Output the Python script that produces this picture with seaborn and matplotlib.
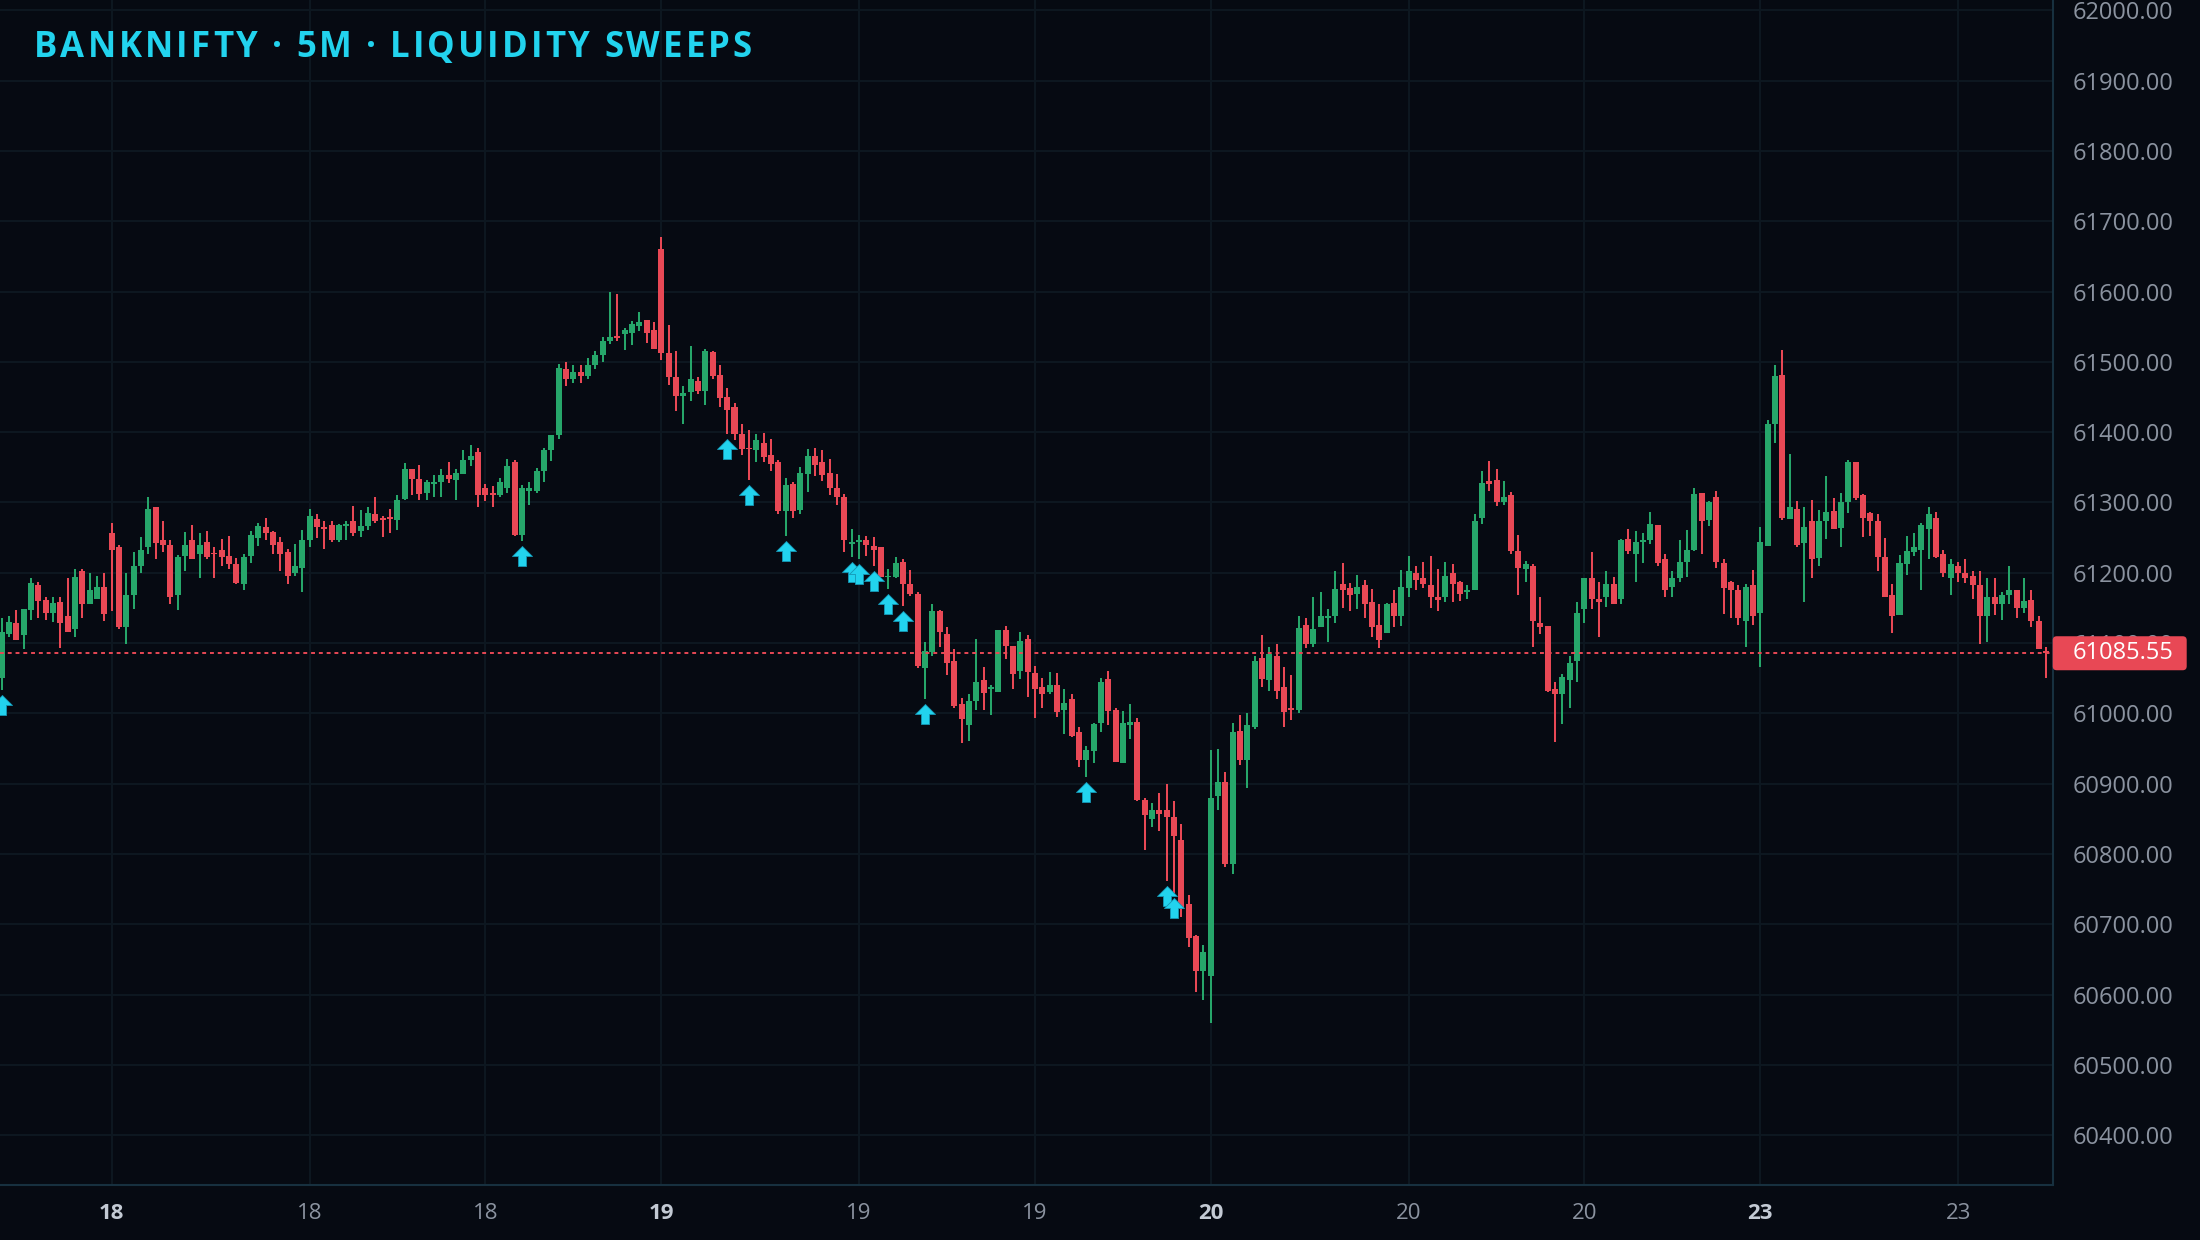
import numpy as np
import pandas as pd
import matplotlib
matplotlib.use("Agg")
import matplotlib.pyplot as plt
import matplotlib.transforms as mtransforms
from matplotlib.path import Path
from matplotlib.patches import FancyBboxPatch
import seaborn as sns

# 5-minute bars (oldest first)
opens = [
    61051, 61113, 61128, 61111, 61147, 61182, 61162, 61143, 61159, 61139, 61120, 61203, 61156, 61163, 61180,
    61256, 61236, 61123, 61169, 61209, 61237, 61293, 61246, 61239, 61169, 61224, 61246, 61227, 61244, 61228,
    61233, 61224, 61213, 61184, 61224, 61250, 61265, 61258, 61244, 61230, 61199, 61207, 61247, 61277, 61265,
    61268, 61247, 61267, 61273, 61260, 61267, 61284, 61278, 61280, 61275, 61305, 61348, 61334, 61314, 61327,
    61329, 61339, 61332, 61341, 61361, 61372, 61321, 61314, 61311, 61321, 61357, 61254, 61317, 61317, 61345,
    61374, 61396, 61490, 61475, 61485, 61480, 61495, 61510, 61530, 61537, 61539, 61541, 61551, 61560, 61546,
    61661, 61513, 61479, 61452, 61457, 61473, 61459, 61514, 61482, 61450, 61436, 61398, 61378, 61374, 61384,
    61368, 61357, 61288, 61327, 61290, 61341, 61366, 61357, 61342, 61321, 61308, 61241, 61244, 61247, 61238,
    61237, 61194, 61194, 61216, 61184, 61170, 61065, 61088, 61145, 61113, 61074, 61014, 60984, 61017, 61048,
    61034, 61031, 61118, 61096, 61061, 61106, 61058, 61037, 61030, 61041, 61005, 61021, 60973, 60933, 60946,
    60987, 61049, 61005, 60930, 60984, 60988, 60877, 60850, 60862, 60862, 60853, 60820, 60729, 60683, 60633,
    60626, 60882, 60902, 60786, 60975, 60933, 60980, 61079, 61048, 61082, 61038, 61007, 61005, 61126, 61099,
    61123, 61135, 61139, 61184, 61179, 61170, 61183, 61159, 61126, 61115, 61157, 61139, 61179, 61200, 61192,
    61182, 61165, 61166, 61199, 61187, 61172, 61176, 61278, 61330, 61332, 61301, 61310, 61231, 61206, 61210,
    61129, 61125, 61034, 61028, 61047, 61075, 61148, 61193, 61163, 61165, 61184, 61163, 61248, 61227, 61244,
    61246, 61268, 61219, 61180, 61192, 61216, 61233, 61314, 61275, 61308, 61214, 61187, 61176, 61132, 61182,
    61143, 61238, 61411, 61482, 61277, 61291, 61243, 61274, 61221, 61274, 61288, 61264, 61300, 61357, 61311,
    61285, 61274, 61223, 61169, 61140, 61213, 61230, 61233, 61263, 61278, 61227, 61193, 61210, 61199, 61196,
    61183, 61138, 61166, 61155, 61169, 61175, 61150, 61162, 61132, 61089,
]
highs = [
    61135, 61139, 61147, 61149, 61192, 61187, 61166, 61165, 61166, 61193, 61206, 61206, 61200, 61196, 61199,
    61271, 61240, 61200, 61230, 61251, 61308, 61293, 61273, 61247, 61226, 61258, 61268, 61256, 61260, 61236,
    61248, 61253, 61221, 61227, 61260, 61271, 61278, 61260, 61251, 61234, 61241, 61261, 61291, 61284, 61273,
    61274, 61270, 61273, 61295, 61290, 61294, 61308, 61281, 61291, 61310, 61356, 61348, 61354, 61332, 61339,
    61347, 61357, 61348, 61374, 61382, 61378, 61327, 61324, 61335, 61362, 61361, 61325, 61329, 61349, 61378,
    61396, 61497, 61500, 61495, 61495, 61505, 61515, 61535, 61600, 61597, 61548, 61558, 61571, 61560, 61557,
    61678, 61553, 61516, 61466, 61523, 61479, 61519, 61516, 61496, 61463, 61442, 61411, 61403, 61398, 61399,
    61391, 61361, 61335, 61329, 61351, 61376, 61378, 61374, 61362, 61341, 61312, 61263, 61254, 61253, 61251,
    61237, 61206, 61223, 61219, 61204, 61172, 61101, 61156, 61147, 61123, 61091, 61022, 61028, 61106, 61066,
    61041, 61119, 61125, 61096, 61116, 61111, 61068, 61051, 61059, 61057, 61034, 61027, 60981, 60954, 60987,
    61051, 61061, 61008, 61004, 61014, 60994, 60879, 60872, 60887, 60899, 60875, 60842, 60741, 60685, 60671,
    60948, 60950, 60916, 60987, 60997, 61000, 61081, 61112, 61095, 61098, 61066, 61055, 61138, 61136, 61166,
    61173, 61149, 61202, 61214, 61186, 61197, 61190, 61177, 61155, 61157, 61176, 61204, 61224, 61210, 61216,
    61224, 61206, 61216, 61212, 61189, 61183, 61284, 61345, 61359, 61348, 61330, 61315, 61254, 61217, 61212,
    61165, 61125, 61045, 61056, 61082, 61159, 61193, 61230, 61187, 61202, 61194, 61248, 61263, 61260, 61257,
    61287, 61268, 61227, 61203, 61246, 61261, 61320, 61314, 61302, 61317, 61219, 61189, 61183, 61184, 61204,
    61265, 61418, 61496, 61517, 61369, 61302, 61294, 61304, 61290, 61337, 61307, 61314, 61361, 61357, 61312,
    61287, 61284, 61250, 61184, 61226, 61253, 61256, 61271, 61294, 61287, 61233, 61220, 61216, 61219, 61202,
    61202, 61193, 61192, 61172, 61210, 61176, 61192, 61175, 61138, 61095,
]
lows = [
    61033, 61108, 61105, 61091, 61133, 61135, 61133, 61130, 61093, 61116, 61108, 61136, 61156, 61163, 61132,
    61145, 61120, 61099, 61149, 61200, 61227, 61220, 61229, 61155, 61147, 61202, 61220, 61193, 61220, 61193,
    61210, 61206, 61184, 61176, 61214, 61238, 61246, 61227, 61203, 61184, 61196, 61173, 61236, 61250, 61234,
    61244, 61244, 61247, 61253, 61251, 61261, 61271, 61251, 61256, 61261, 61304, 61311, 61304, 61304, 61308,
    61308, 61328, 61304, 61341, 61352, 61294, 61302, 61293, 61308, 61314, 61253, 61245, 61297, 61314, 61329,
    61359, 61390, 61465, 61470, 61470, 61475, 61490, 61500, 61525, 61530, 61517, 61524, 61544, 61527, 61519,
    61502, 61467, 61430, 61412, 61445, 61455, 61439, 61476, 61436, 61398, 61389, 61368, 61332, 61357, 61358,
    61345, 61283, 61253, 61278, 61284, 61315, 61338, 61331, 61310, 61297, 61230, 61223, 61220, 61224, 61209,
    61194, 61177, 61192, 61153, 61167, 61065, 61021, 61081, 61095, 61054, 61007, 60958, 60961, 61005, 61005,
    60997, 61031, 61078, 61034, 61049, 61024, 60994, 61007, 61027, 60995, 60970, 60966, 60924, 60910, 60929,
    60974, 60984, 60931, 60930, 60963, 60876, 60805, 60838, 60833, 60762, 60745, 60710, 60667, 60604, 60592,
    60560, 60862, 60782, 60772, 60926, 60894, 60978, 61038, 61032, 61021, 60981, 60990, 61001, 61093, 61095,
    61123, 61101, 61129, 61150, 61145, 61149, 61136, 61108, 61093, 61115, 61123, 61125, 61166, 61175, 61179,
    61150, 61145, 61159, 61159, 61160, 61163, 61175, 61270, 61317, 61295, 61297, 61227, 61169, 61187, 61095,
    61113, 61031, 60960, 60985, 61008, 61044, 61128, 61149, 61108, 61152, 61156, 61155, 61227, 61187, 61214,
    61241, 61209, 61165, 61165, 61187, 61194, 61231, 61227, 61267, 61207, 61142, 61135, 61126, 61095, 61126,
    61066, 61238, 61385, 61275, 61277, 61237, 61159, 61193, 61209, 61248, 61263, 61236, 61285, 61304, 61251,
    61253, 61202, 61165, 61115, 61140, 61197, 61224, 61175, 61220, 61221, 61194, 61169, 61187, 61186, 61163,
    61099, 61101, 61140, 61133, 61156, 61135, 61143, 61123, 61092, 61051,
]
closes = [
    61116, 61130, 61105, 61149, 61186, 61160, 61143, 61157, 61129, 61116, 61194, 61156, 61175, 61180, 61142,
    61233, 61123, 61169, 61210, 61233, 61291, 61243, 61240, 61166, 61223, 61240, 61220, 61239, 61223, 61227,
    61223, 61213, 61186, 61223, 61254, 61267, 61257, 61240, 61227, 61196, 61209, 61246, 61281, 61265, 61263,
    61246, 61268, 61270, 61257, 61267, 61285, 61274, 61275, 61277, 61304, 61347, 61334, 61312, 61329, 61329,
    61339, 61334, 61342, 61361, 61366, 61311, 61310, 61311, 61329, 61352, 61254, 61320, 61320, 61345, 61375,
    61396, 61492, 61475, 61485, 61480, 61495, 61510, 61530, 61535, 61534, 61546, 61554, 61557, 61541, 61519,
    61513, 61479, 61452, 61456, 61476, 61459, 61516, 61480, 61448, 61432, 61398, 61376, 61376, 61389, 61365,
    61355, 61288, 61325, 61288, 61342, 61366, 61354, 61339, 61320, 61308, 61246, 61244, 61247, 61240, 61233,
    61194, 61196, 61214, 61184, 61170, 61068, 61089, 61145, 61116, 61072, 61011, 60992, 61018, 61045, 61029,
    61037, 61119, 61096, 61056, 61103, 61059, 61034, 61028, 61041, 61002, 61015, 60968, 60934, 60948, 60985,
    61045, 61004, 60931, 60987, 60988, 60877, 60855, 60863, 60857, 60852, 60825, 60722, 60680, 60634, 60661,
    60879, 60903, 60786, 60974, 60934, 60983, 61075, 61049, 61084, 61032, 61002, 61005, 61122, 61098, 61120,
    61138, 61139, 61177, 61175, 61169, 61180, 61155, 61123, 61105, 61156, 61139, 61180, 61203, 61190, 61184,
    61166, 61162, 61196, 61184, 61170, 61176, 61274, 61328, 61327, 61300, 61308, 61231, 61207, 61212, 61132,
    61123, 61032, 61028, 61052, 61072, 61143, 61193, 61163, 61159, 61184, 61156, 61247, 61231, 61244, 61246,
    61270, 61214, 61175, 61193, 61216, 61233, 61312, 61274, 61301, 61216, 61179, 61175, 61135, 61180, 61139,
    61244, 61412, 61480, 61278, 61293, 61240, 61265, 61220, 61274, 61287, 61263, 61300, 61358, 61307, 61278,
    61273, 61223, 61166, 61139, 61214, 61231, 61237, 61268, 61284, 61223, 61199, 61212, 61200, 61192, 61182,
    61138, 61166, 61155, 61169, 61175, 61150, 61160, 61132, 61092, 61085.55,
]

# bars flagged as liquidity sweeps (position in the lists above)
sweep_bars = [0, 71, 99, 102, 107, 116, 117, 119, 121, 123, 126, 148, 159, 160]

# x-axis ticks: bar position and day label
tick_bars = [15, 42, 66, 90, 117, 141, 165, 192, 216, 240, 267]
tick_labels = ["18", "18", "18", "19", "19", "19", "20", "20", "20", "23", "23"]
session_open = [True, False, False, True, False, False, True, False, False, True, False]

last_price = 61085.55
price_ticks = np.arange(60400, 62001, 100)
title = "BANKNIFTY · 5M · LIQUIDITY SWEEPS"

BG = "#060a12"
GRID = "#0e1821"
UP = "#26a66a"
DOWN = "#e84855"
CYAN = "#22d3ee"
TXT = "#8b93a0"

df = pd.DataFrame({"open": opens, "high": highs, "low": lows, "close": closes})
df["bar"] = np.arange(len(df))
df["up"] = df["close"] >= df["open"]
df["color"] = np.where(df["up"], UP, DOWN)

sns.set_theme(style="dark", rc={"axes.facecolor": BG, "figure.facecolor": BG})
plt.rcParams["font.family"] = ["Open Sans", "DejaVu Sans"]

fig = plt.figure(figsize=(22, 12.4), dpi=100)
ax = fig.add_axes([0, 0.0444, 0.93305, 0.9556])
ax.set_facecolor(BG)

# wicks and bodies
ax.vlines(df["bar"], df["low"], df["high"], colors=df["color"], linewidth=1.45, zorder=3)
body_low = np.minimum(df["open"], df["close"])
body_h = np.maximum((df["close"] - df["open"]).abs(), 1.6)
ax.bar(df["bar"], body_h, bottom=body_low, width=0.82, color=df["color"], linewidth=0, zorder=4)

# last price dashed line
ax.axhline(last_price, color=DOWN, linewidth=1.4, linestyle=(0, (2, 2)), zorder=5)

# sweep arrows below the low of the bar
arrow = Path([(0, -5), (10, -15), (4, -15), (4, -25), (-4, -25), (-4, -15), (-10, -15), (0, -5)],
             [Path.MOVETO] + [Path.LINETO] * 6 + [Path.CLOSEPOLY])
sw = df.iloc[sweep_bars]
sns.scatterplot(x=sw["bar"], y=sw["low"], marker=arrow, s=1296, color=CYAN,
                edgecolor="#1597b5", linewidth=0.6, ax=ax, zorder=6, legend=False)

ax.set_xlim(-0.245, 279.91)
ax.set_ylim(60329.2, 62014.8)
ax.set_xlabel("")
ax.set_ylabel("")

ax.set_xticks(tick_bars)
ax.set_xticklabels(tick_labels)
for lab, bold in zip(ax.get_xticklabels(), session_open):
    lab.set_fontweight("bold" if bold else "normal")
    lab.set_color("#c3cad4" if bold else TXT)
    lab.set_fontsize(16)

ax.yaxis.tick_right()
ax.set_yticks(price_ticks)
ax.set_yticklabels([f"{v:.2f}" for v in price_ticks])
ax.tick_params(axis="y", length=0, pad=14, labelsize=17, labelcolor=TXT)
ax.tick_params(axis="x", length=0, pad=13)
ax.grid(True, color=GRID, linewidth=1.4)
ax.set_axisbelow(True)

for side in ["top", "left"]:
    ax.spines[side].set_visible(False)
for side in ["right", "bottom"]:
    ax.spines[side].set_visible(True)
    ax.spines[side].set_color("#17303f")
    ax.spines[side].set_linewidth(1.5)

# title with letter spacing, laid out glyph by glyph
fig.canvas.draw()
renderer = fig.canvas.get_renderer()
title_left, title_right, title_base = 34, 752, 1240 - 57.3
glyphs = []
for ch in title:
    t = fig.text(0, title_base / 1240, ch, ha="left", va="baseline",
                 fontsize=25, fontweight="bold", color=CYAN)
    w = t.get_window_extent(renderer).width if ch != " " else 8.0
    glyphs.append((t, w))
gap = (title_right - title_left - sum(w for _, w in glyphs)) / (len(glyphs) - 1)
x = title_left
for t, w in glyphs:
    t.set_x(x / 2200)
    x += w + gap

# last price tag on the axis
y_pix = ax.transData.transform((0, last_price))[1]
x_axis = ax.transAxes.transform((1, 0))[0]
tag = FancyBboxPatch((x_axis, y_pix - 17), 134, 34, boxstyle="round,pad=0,rounding_size=4",
                     facecolor=DOWN, edgecolor="none", transform=mtransforms.IdentityTransform(), zorder=10)
fig.add_artist(tag)
fig.text((x_axis + 20) / 2200, y_pix / 1240, f"{last_price:.2f}", ha="left", va="center",
         fontsize=17, color="white", zorder=11)

fig.savefig("out.png", dpi=100, facecolor=BG)
